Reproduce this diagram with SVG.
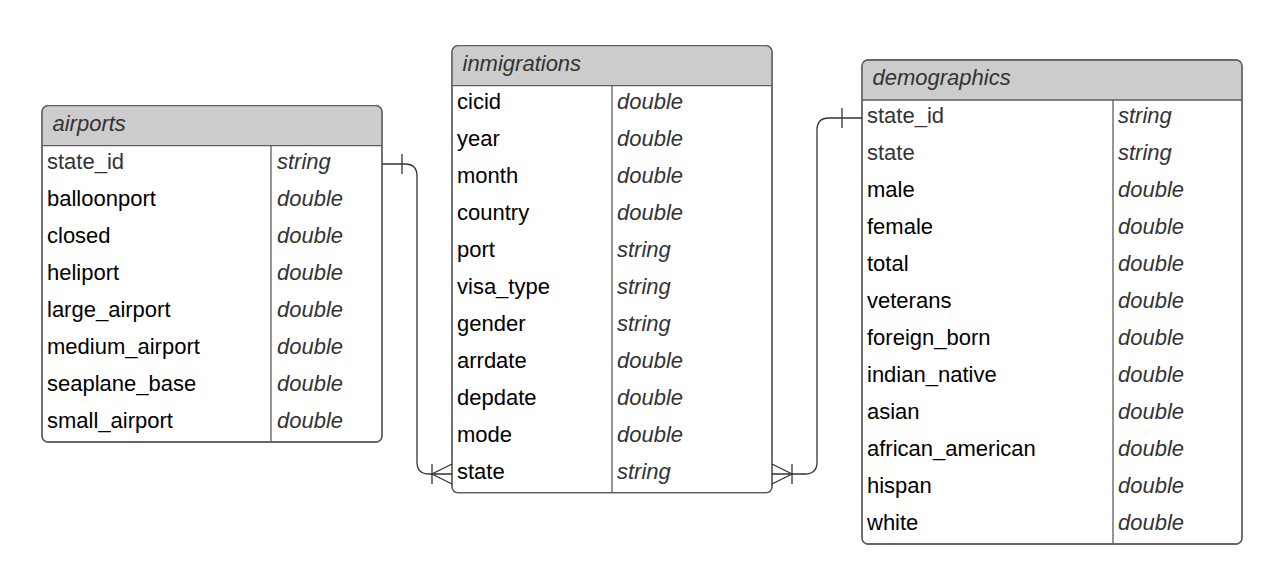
<svg xmlns="http://www.w3.org/2000/svg" width="1275" height="579" viewBox="0 0 1275 579">
<style>
.box{fill:#fff;stroke:#5e5e5e;stroke-width:1.3}
.hdr{fill:#cccccc;stroke:none}
.ln{stroke:#5e5e5e;stroke-width:1.3;fill:none}
.title{font-family:"Liberation Sans",Arial,sans-serif;font-size:22px;font-style:italic;fill:#333}
.nm{font-family:"Liberation Sans",Arial,sans-serif;font-size:22px;fill:#000}
.nmg{font-family:"Liberation Sans",Arial,sans-serif;font-size:22px;fill:#333}
.ty{font-family:"Liberation Sans",Arial,sans-serif;font-size:22px;font-style:italic;fill:#333}
.con{stroke:#333;stroke-width:1.3;fill:none}
</style>
<rect width="1275" height="579" fill="#fff"/>

<g id="airports">
<rect class="box" x="42" y="105.7" width="340" height="336.3" rx="6"/>
<path class="hdr" d="M42.65,145.7 V111.7 Q42.65,106.35 48,106.35 H376 Q381.35,106.35 381.35,111.7 V145.7 Z"/>
<rect class="ln" x="42" y="105.7" width="340" height="336.3" rx="6"/>
<line class="ln" x1="42" y1="145.7" x2="382" y2="145.7"/>
<line class="ln" x1="271" y1="145.7" x2="271" y2="442"/>
<text class="title" x="52.5" y="131">airports</text>
<text class="nmg" x="47" y="168.7">state_id</text><text class="ty" x="277" y="168.7">string</text>
<text class="nm" x="47" y="205.7">balloonport</text><text class="ty" x="277" y="205.7">double</text>
<text class="nm" x="47" y="242.7">closed</text><text class="ty" x="277" y="242.7">double</text>
<text class="nm" x="47" y="279.7">heliport</text><text class="ty" x="277" y="279.7">double</text>
<text class="nm" x="47" y="316.7">large_airport</text><text class="ty" x="277" y="316.7">double</text>
<text class="nm" x="47" y="353.7">medium_airport</text><text class="ty" x="277" y="353.7">double</text>
<text class="nm" x="47" y="390.7">seaplane_base</text><text class="ty" x="277" y="390.7">double</text>
<text class="nm" x="47" y="427.7">small_airport</text><text class="ty" x="277" y="427.7">double</text>
</g>

<g id="inmigrations">
<rect class="box" x="452" y="45.7" width="320" height="447" rx="6"/>
<path class="hdr" d="M452.65,85.7 V51.7 Q452.65,46.35 458,46.35 H766 Q771.35,46.35 771.35,51.7 V85.7 Z"/>
<rect class="ln" x="452" y="45.7" width="320" height="447" rx="6"/>
<line class="ln" x1="452" y1="85.7" x2="772" y2="85.7"/>
<line class="ln" x1="612" y1="85.7" x2="612" y2="492.7"/>
<text class="title" x="462.5" y="71">inmigrations</text>
<text class="nm" x="457" y="108.7">cicid</text><text class="ty" x="617" y="108.7">double</text>
<text class="nm" x="457" y="145.7">year</text><text class="ty" x="617" y="145.7">double</text>
<text class="nm" x="457" y="182.7">month</text><text class="ty" x="617" y="182.7">double</text>
<text class="nm" x="457" y="219.7">country</text><text class="ty" x="617" y="219.7">double</text>
<text class="nm" x="457" y="256.7">port</text><text class="ty" x="617" y="256.7">string</text>
<text class="nm" x="457" y="293.7">visa_type</text><text class="ty" x="617" y="293.7">string</text>
<text class="nm" x="457" y="330.7">gender</text><text class="ty" x="617" y="330.7">string</text>
<text class="nm" x="457" y="367.7">arrdate</text><text class="ty" x="617" y="367.7">double</text>
<text class="nm" x="457" y="404.7">depdate</text><text class="ty" x="617" y="404.7">double</text>
<text class="nm" x="457" y="441.7">mode</text><text class="ty" x="617" y="441.7">double</text>
<text class="nm" x="457" y="478.7">state</text><text class="ty" x="617" y="478.7">string</text>
</g>

<g id="demographics">
<rect class="box" x="862" y="60" width="380" height="484" rx="6"/>
<path class="hdr" d="M862.65,100 V66 Q862.65,60.65 868,60.65 H1236 Q1241.35,60.65 1241.35,66 V100 Z"/>
<rect class="ln" x="862" y="60" width="380" height="484" rx="6"/>
<line class="ln" x1="862" y1="100" x2="1242" y2="100"/>
<line class="ln" x1="1113" y1="100" x2="1113" y2="544"/>
<text class="title" x="872.5" y="85.3">demographics</text>
<text class="nmg" x="867" y="123">state_id</text><text class="ty" x="1118" y="123">string</text>
<text class="nmg" x="867" y="160">state</text><text class="ty" x="1118" y="160">string</text>
<text class="nm" x="867" y="197">male</text><text class="ty" x="1118" y="197">double</text>
<text class="nm" x="867" y="234">female</text><text class="ty" x="1118" y="234">double</text>
<text class="nm" x="867" y="271">total</text><text class="ty" x="1118" y="271">double</text>
<text class="nm" x="867" y="308">veterans</text><text class="ty" x="1118" y="308">double</text>
<text class="nm" x="867" y="345">foreign_born</text><text class="ty" x="1118" y="345">double</text>
<text class="nm" x="867" y="382">indian_native</text><text class="ty" x="1118" y="382">double</text>
<text class="nm" x="867" y="419">asian</text><text class="ty" x="1118" y="419">double</text>
<text class="nm" x="867" y="456">african_american</text><text class="ty" x="1118" y="456">double</text>
<text class="nm" x="867" y="493">hispan</text><text class="ty" x="1118" y="493">double</text>
<text class="nm" x="867" y="530">white</text><text class="ty" x="1118" y="530">double</text>
</g>

<g id="connectors">
<path class="con" d="M382,164 H405 Q417,164 417,176 V462 Q417,474 429,474 H452"/>
<line class="con" x1="402" y1="154" x2="402" y2="174"/>
<path class="con" d="M452,464 L432,474 L452,484"/>
<line class="con" x1="432" y1="464" x2="432" y2="484"/>

<path class="con" d="M772,474 H805 Q817,474 817,462 V130 Q817,118 829,118 H862"/>
<path class="con" d="M772,464 L792,474 L772,484"/>
<line class="con" x1="792" y1="464" x2="792" y2="484"/>
<line class="con" x1="842" y1="108" x2="842" y2="128"/>
</g>
</svg>
